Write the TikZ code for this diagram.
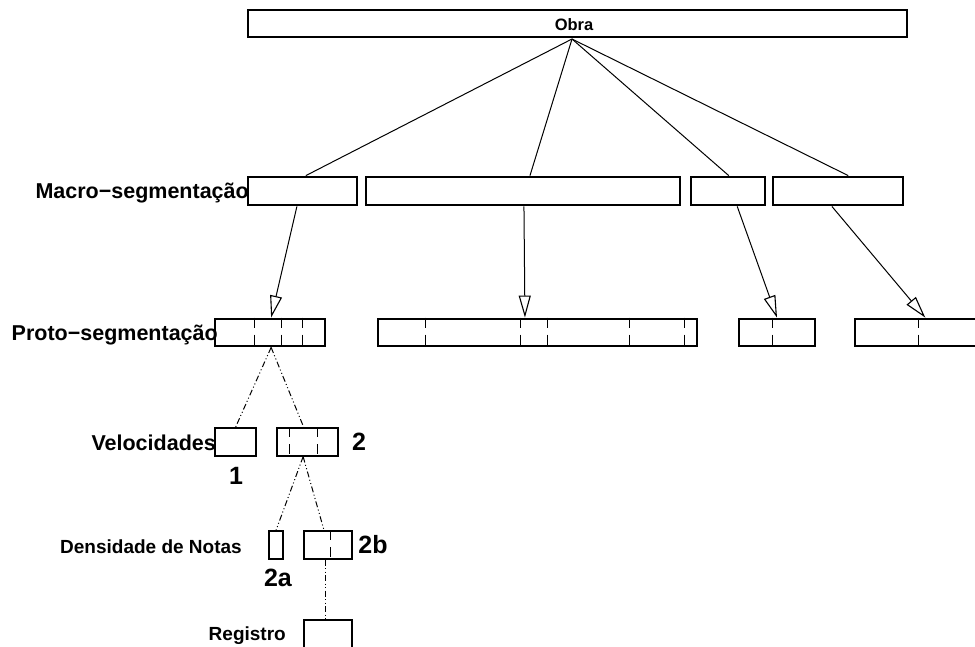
\documentclass[tikz,border=0pt]{standalone}
\usepackage{fontspec}
\setmainfont{Liberation Sans}
\usetikzlibrary{arrows.meta,calc}

\tikzset{
  thickbox/.style={draw, line width=2.8pt, rectangle, inner sep=0pt, fill=white},
  thinbox/.style={draw, line width=1.3pt, rectangle, inner sep=0pt, fill=white},
  divider/.style={line width=1.1pt, dash pattern=on 10pt off 7pt},
  link/.style={line width=1pt},
  down/.style={line width=1pt, -{Triangle[open, length=22pt, width=12pt, line width=1.1pt]}},
  dashdot/.style={line width=1pt, dash pattern=on 6pt off 2.5pt on 1pt off 2.5pt on 1pt off 2.5pt},
  lab/.style={inner sep=0pt, font=\bfseries\fontsize{21.5}{24}\selectfont},
  smalllab/.style={inner sep=0pt, font=\bfseries\fontsize{19}{22}\selectfont},
  num/.style={inner sep=0pt, font=\bfseries\fontsize{25}{28}\selectfont},
}

\begin{document}
\begin{tikzpicture}[x=1pt, y=-1pt]
  \fill[white] (0,0) rectangle (975,646);
  \useasboundingbox (0,0) rectangle (975,646);

  % whole piece
  \node[thickbox, minimum width=659pt, minimum height=27pt] (obra) at (577.5,23.5) {};
  \node[inner sep=0pt, anchor=base, font=\bfseries\fontsize{16.5}{19}\selectfont] (obratxt) at (574,30) {Obra};
  \coordinate (hub) at (572,39);

  % macro segmentation
  \node[thickbox, minimum width=109pt, minimum height=28pt] (m1) at (302.5,191) {};
  \node[thickbox, minimum width=314pt, minimum height=28pt] (m2) at (523,191) {};
  \node[thickbox, minimum width=74pt,  minimum height=28pt] (m3) at (728,191) {};
  \node[thickbox, minimum width=130pt, minimum height=28pt] (m4) at (838,191) {};
  \node[lab, anchor=base east] (macrolab) at (249,198) {Macro−segmentação};

  % proto segmentation
  \node[thickbox, minimum width=110pt, minimum height=27pt] (p1) at (270,332.5) {};
  \node[thickbox, minimum width=319pt, minimum height=27pt] (p2) at (537.5,332.5) {};
  \node[thickbox, minimum width=76pt,  minimum height=27pt] (p3) at (777,332.5) {};
  \node[thickbox, minimum width=130pt, minimum height=27pt] (p4) at (920,332.5) {};
  \node[lab, anchor=base east] (protolab) at (218,340) {Proto−segmentação};

  \foreach \d in {41,68,89}
    \draw[divider] ([xshift=\d pt]p1.north west) -- ([xshift=\d pt]p1.south west);
  \foreach \d in {49,144,171,253,308}
    \draw[divider] ([xshift=\d pt]p2.north west) -- ([xshift=\d pt]p2.south west);
  \draw[divider] ([xshift=35pt]p3.north west) -- ([xshift=35pt]p3.south west);
  \draw[divider] ([xshift=65pt]p4.north west) -- ([xshift=65pt]p4.south west);

  % velocities
  \node[thinbox, minimum width=41pt, minimum height=28pt] (v1) at (235.5,442) {};
  \node[thinbox, minimum width=61pt, minimum height=28pt] (v2) at (307.5,442) {};
  \foreach \d in {13,41}
    \draw[divider] ([xshift=\d pt]v2.north west) -- ([xshift=\d pt]v2.south west);
  \node[lab, anchor=base east] (vellab) at (216,450) {Velocidades};
  \node[num, anchor=base] (n1) at (236,484) {1};
  \node[num, anchor=base] (n2) at (359,450) {2};

  % note density
  \node[thinbox, minimum width=14pt, minimum height=28pt] (d2a) at (276,545) {};
  \node[thinbox, minimum width=48pt, minimum height=28pt] (d2b) at (328,545) {};
  \draw[divider] ([xshift=27pt]d2b.north west) -- ([xshift=27pt]d2b.south west);
  \node[smalllab, anchor=base east] (denlab) at (242,553) {Densidade de Notas};
  \node[num, anchor=base] (n2a) at (278,586) {2a};
  \node[num, anchor=base] (n2b) at (373,553) {2b};

  % register
  \node[thinbox, minimum width=48pt, minimum height=40pt] (reg) at (328,640) {};
  \node[smalllab, anchor=base east] (reglab) at (286,640) {Registro};

  % piece to macro segments
  \draw[link] (hub) -- ($(m1.north west)!0.53!(m1.north east)$);
  \draw[link] (hub) -- ($(m2.north west)!0.522!(m2.north east)$);
  \draw[link] (hub) -- ($(m3.north west)!0.51!(m3.north east)$);
  \draw[link] (hub) -- ($(m4.north west)!0.577!(m4.north east)$);

  % macro to proto segments
  \draw[down] ($(m1.south west)!0.45!(m1.south east)$) -- ($(p1.north west)!0.51!(p1.north east)$);
  \draw[down] ($(m2.south west)!0.503!(m2.south east)$) -- ($(p2.north west)!0.461!(p2.north east)$);
  \draw[down] ($(m3.south west)!0.62!(m3.south east)$) -- ($(p3.north west)!0.5!(p3.north east)$);
  \draw[down] ($(m4.south west)!0.454!(m4.south east)$) -- ($(p4.north west)!0.54!(p4.north east)$);

  % refinement
  \coordinate (p1b) at ($(p1.south west)!0.51!(p1.south east)$);
  \draw[dashdot] (p1b) -- (v1.north);
  \draw[dashdot] (p1b) -- ($(v2.north west)!0.44!(v2.north east)$);
  \coordinate (v2b) at ($(v2.south west)!0.43!(v2.south east)$);
  \draw[dashdot] (v2b) -- (d2a.north);
  \draw[dashdot] (v2b) -- ($(d2b.north west)!0.42!(d2b.north east)$);
  \draw[dashdot] ($(d2b.south west)!0.44!(d2b.south east)$) -- ($(reg.north west)!0.44!(reg.north east)$);
\end{tikzpicture}
\end{document}
